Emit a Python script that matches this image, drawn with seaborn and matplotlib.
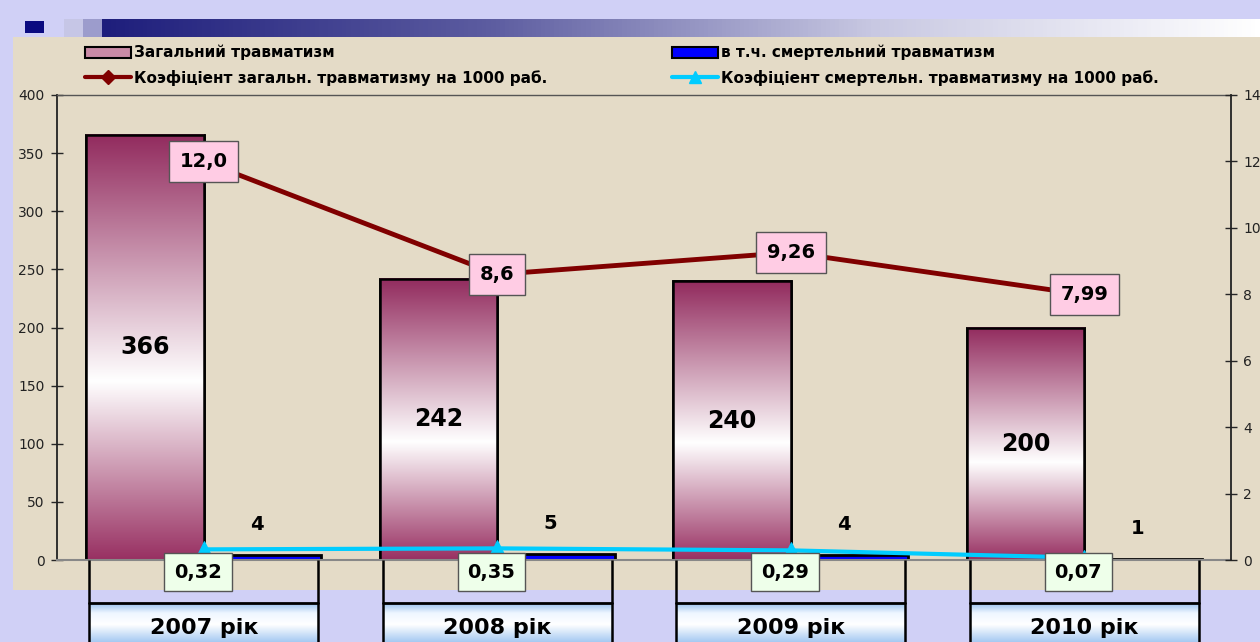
import numpy as np
import pandas as pd
import seaborn as sns
import matplotlib.pyplot as plt
from matplotlib.colors import LinearSegmentedColormap
from matplotlib.patches import Rectangle, Patch
from matplotlib.lines import Line2D
from matplotlib.transforms import blended_transform_factory

# дані
years = ['2007 рік', '2008 рік', '2009 рік', '2010 рік']
total_injuries = [366, 242, 240, 200]
fatal_injuries = [4, 5, 4, 1]
total_rate = [12.0, 8.6, 9.26, 7.99]
fatal_rate = [0.32, 0.35, 0.29, 0.07]
total_rate_labels = ['12,0', '8,6', '9,26', '7,99']
fatal_rate_labels = ['0,32', '0,35', '0,29', '0,07']
series_names = ['Загальний травматизм', 'в т.ч. смертельний травматизм']
rate_names = ['Коэфіціент загальн. травматизму на 1000 раб.',
              'Коэфіціент смертельн. травматизму на 1000 раб.']

W, H = 1260, 642


def fx(px):
    return px / W


def fy(py):
    return 1 - py / H


sns.set_style('ticks')
plt.rcParams['font.family'] = ['DejaVu Sans']
plt.rcParams['text.color'] = 'black'

fig = plt.figure(figsize=(12.6, 6.42), dpi=100, facecolor='#D0D0F6')

# бежевий фон області діаграми
fig.add_artist(Rectangle((fx(13), fy(590)), 1 - fx(13), fy(37) - fy(590),
                         transform=fig.transFigure, facecolor='#E4DBC7',
                         edgecolor='none', zorder=-5))

# смуга-заголовок зверху
axh = fig.add_axes([0, fy(37), 1, 18 / H])
axh.axis('off')
cmap_h = LinearSegmentedColormap.from_list('h', ['#1E1E7C', '#5C5CA0', '#C8C8E2', '#FFFFFF'])
axh.imshow(np.linspace(0, 1, 256).reshape(1, -1), extent=(102, 1260, 37, 19),
           cmap=cmap_h, aspect='auto')
axh.add_patch(Rectangle((25, 21), 19, 12, facecolor='#0A0A80', edgecolor='none'))
axh.add_patch(Rectangle((64, 19), 19, 18, facecolor='#C6C6E6', edgecolor='none'))
axh.add_patch(Rectangle((83, 19), 19, 18, facecolor='#9C9CCC', edgecolor='none'))
axh.set_xlim(0, W)
axh.set_ylim(37, 19)

# основна вісь
ax = fig.add_axes([fx(57), fy(560), fx(1231) - fx(57), (560 - 95) / H])
ax.patch.set_alpha(0)

df = pd.DataFrame({
    'year': years * 2,
    'value': total_injuries + fatal_injuries,
    'type': [series_names[0]] * 4 + [series_names[1]] * 4,
})
sns.barplot(data=df, x='year', y='value', hue='type', palette=['#9A3064', '#0000FF'],
            width=0.8, saturation=1, edgecolor='black', linewidth=2,
            legend=False, ax=ax)

# градієнт для стовпців загального травматизму
cmap_bar = LinearSegmentedColormap.from_list(
    'bar', [(0, '#983062'), (0.42, '#FFFFFF'), (1, '#922B5E')])
for rect, v in zip(ax.containers[0], total_injuries):
    x0, y0 = rect.get_x(), rect.get_y()
    w, h = rect.get_width(), rect.get_height()
    ax.imshow(np.linspace(0, 1, 256).reshape(-1, 1), extent=(x0, x0 + w, y0, y0 + h),
              origin='lower', cmap=cmap_bar, aspect='auto', zorder=rect.get_zorder() + 0.1)
    ax.add_patch(Rectangle((x0, y0), w, h, fill=False, edgecolor='black',
                           linewidth=1.8, zorder=rect.get_zorder() + 0.2))
    ax.text(x0 + w / 2, h / 2, str(v), ha='center', va='center',
            fontsize=17, fontweight='bold', zorder=5)

for rect, v in zip(ax.containers[1], fatal_injuries):
    cx = rect.get_x() + rect.get_width() / 2
    ax.annotate(str(v), (cx, rect.get_height()), xytext=(-4, 22), textcoords='offset points',
                ha='center', va='center', fontsize=14, fontweight='bold', zorder=5)

ax.set_xlim(-0.5, 3.5)
ax.set_ylim(0, 400)
ax.set_yticks(range(0, 401, 50))
ax.set_xticks([])
ax.set_xlabel('')
ax.set_ylabel('')
ax.tick_params(axis='y', left=True, direction='inout', length=8, width=1,
               labelsize=10, labelcolor='#222222', pad=5)
ax.spines['left'].set_color('#222222')
ax.spines['left'].set_linewidth(1.3)
ax.spines['top'].set_color('#555555')
ax.spines['top'].set_linewidth(1)
ax.spines['bottom'].set_color('#888888')
ax.spines['bottom'].set_linewidth(1.5)
ax.spines['right'].set_visible(False)

# права вісь - коефіцієнти
ax2 = ax.twinx()
x_pos = np.arange(len(years))
sns.lineplot(x=x_pos, y=total_rate, color='#800000', lw=3.5, marker='D', markersize=8,
             markeredgecolor='#800000', ax=ax2)
sns.lineplot(x=x_pos, y=fatal_rate, color='#00CCFF', lw=3, marker='^', markersize=11,
             markeredgecolor='#00CCFF', ax=ax2)
ax2.set_ylim(0, 14)
ax2.set_xlim(-0.5, 3.5)
ax2.set_yticks(range(0, 15, 2))
ax2.set_ylabel('')
ax2.tick_params(axis='y', right=True, direction='inout', length=8, width=1,
                labelsize=10, labelcolor='#222222', pad=5)
for s in ['top', 'bottom', 'left']:
    ax2.spines[s].set_visible(False)
ax2.spines['right'].set_color('#222222')
ax2.spines['right'].set_linewidth(1.3)

for x, v, s in zip(x_pos, total_rate, total_rate_labels):
    ax2.text(x, v, s, ha='center', va='center', fontsize=14, fontweight='bold', zorder=6,
             bbox=dict(boxstyle='square,pad=0.55', facecolor='#FFCCE4', edgecolor='#555555', lw=1))

trans = blended_transform_factory(ax2.transData, ax2.transAxes)
for x, s in zip(x_pos, fatal_rate_labels):
    ax2.text(x - 0.02, -0.026, s, transform=trans, ha='center', va='center', fontsize=14,
             fontweight='bold', zorder=6, clip_on=False,
             bbox=dict(boxstyle='square,pad=0.5', facecolor='#EEFFEA', edgecolor='#555555', lw=1))

# підписи років знизу
axb = fig.add_axes([fx(57), 0, fx(1231) - fx(57), 82 / H])
axb.axis('off')
cmap_box = LinearSegmentedColormap.from_list(
    'box', [(0, '#A6CAF2'), (0.45, '#FFFFFF'), (0.75, '#EEF6FF'), (1, '#9CC2EE')])
for i, label in enumerate(years):
    axb.imshow(np.linspace(0, 1, 64).reshape(-1, 1), extent=(i - 0.39, i + 0.39, 0, 39),
               origin='lower', cmap=cmap_box, aspect='auto', zorder=1)
    axb.plot([i - 0.39, i + 0.39], [39, 39], color='black', lw=2, zorder=2)
    axb.vlines([i - 0.39, i + 0.39], 0, 82, color='black', lw=1.8, zorder=2)
    axb.text(i, 14, label, ha='center', va='center', fontsize=16, fontweight='bold', zorder=3)
axb.set_xlim(-0.5, 3.5)
axb.set_ylim(0, 82)

# легенда
h_total = Patch(facecolor='#C98AA6', edgecolor='black', linewidth=1.5)
h_fatal = Patch(facecolor='#0000FF', edgecolor='black', linewidth=1.5)
h_rate = Line2D([], [], color='#800000', lw=3, marker='D', markersize=7)
h_frate = Line2D([], [], color='#00CCFF', lw=3, marker='^', markersize=9)
leg_kw = dict(loc='upper left', frameon=False, prop={'weight': 'bold', 'size': 11},
              handlelength=3.0, handletextpad=0.2, labelspacing=0.6,
              borderpad=0, borderaxespad=0)
fig.legend([h_total, h_rate], [series_names[0], rate_names[0]],
           bbox_to_anchor=(fx(85), fy(45)), **leg_kw)
fig.legend([h_fatal, h_frate], [series_names[1], rate_names[1]],
           bbox_to_anchor=(fx(672), fy(45)), **leg_kw)

fig.savefig('out.png', dpi=100, facecolor=fig.get_facecolor())
